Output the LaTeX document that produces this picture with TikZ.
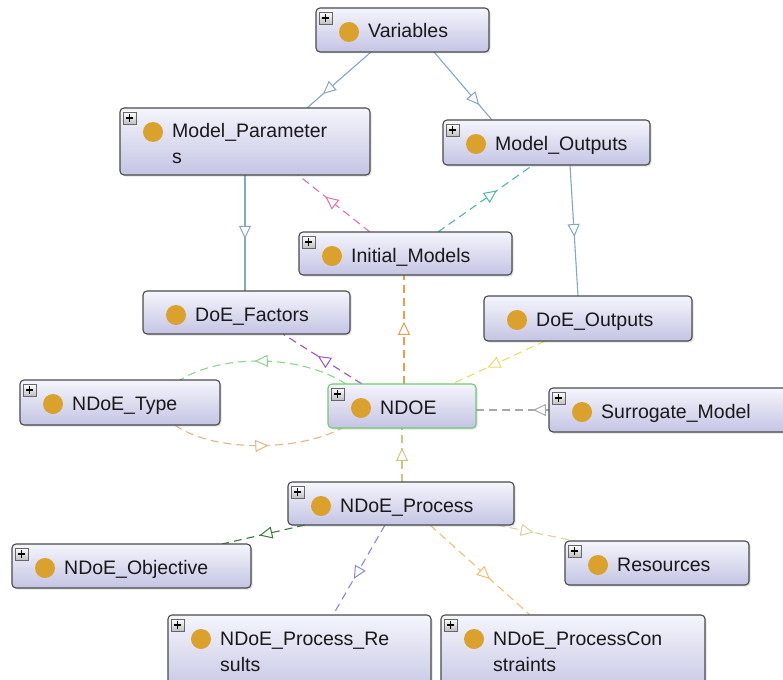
\documentclass[tikz,border=0pt]{standalone}
\usepackage{fontspec}
\setmainfont{Liberation Sans}
\usetikzlibrary{calc,arrows.meta,decorations.markings,shadows}
\pgfdeclarelayer{bg}
\pgfsetlayers{bg,main}

\definecolor{boxtop}{HTML}{F5F5FC}
\definecolor{boxbot}{HTML}{C4C4E4}
\definecolor{boxedge}{HTML}{4A4A4A}
\definecolor{ndgreen}{HTML}{74C874}
\definecolor{dotc}{HTML}{DAA22C}
\definecolor{cblue}{HTML}{86A6C6}
\definecolor{cpink}{HTML}{E070B0}
\definecolor{cteal}{HTML}{50B8A8}
\definecolor{corange}{HTML}{E0A050}
\definecolor{cpurple}{HTML}{A050C8}
\definecolor{cyellow}{HTML}{E6DE6A}
\definecolor{cgreen}{HTML}{8ED68E}
\definecolor{corange2}{HTML}{E0B684}
\definecolor{cgray}{HTML}{A8A8A8}
\definecolor{colive}{HTML}{D0C878}
\definecolor{cdgreen}{HTML}{3C7A3C}
\definecolor{cbeige}{HTML}{D8D0A8}
\definecolor{cviolet}{HTML}{8888E0}
\definecolor{corange3}{HTML}{F0C070}

\tikzset{
  clsbox/.style={draw=boxedge, line width=1.1pt, rounded corners=4pt,
    top color=boxtop, bottom color=boxbot, inner sep=0pt, outer sep=0pt,
    drop shadow={shadow xshift=1.5pt, shadow yshift=-1.5pt, opacity=0.25}},
  focusbox/.style={draw=ndgreen},
  lbl/.style={font=\fontsize{19.5}{26}\selectfont, inner sep=0pt, text=black!90},
  lbltwo/.style={lbl, text width=240pt, align=left},
  plusbox/.style={draw=black!60, line width=0.8pt, top color=white, bottom color=black!25},
  link/.style={line width=1.1pt},
  dlink/.style={link, dash pattern=on 8pt off 5pt},
  tri/.style={postaction={decorate}, decoration={markings,
    mark=at position #1 with {\arrow{Triangle[length=13pt,width=12pt,fill=white,line width=1pt]}}}},
}

\newcommand\ocls[6]{\node[clsbox,#6,minimum width={(#4)-(#2)},minimum height={(#5)-(#3)}] (#1) at ({((#2)+(#4))/2},{((#3)+(#5))/2}) {};}
\newcommand\ocdot[1]{\fill[dotc] ($(#1.north west)+(33,24)$) circle[radius=10pt];}
\newcommand\ocplus[1]{%
  \draw[plusbox] ($(#1.north west)+(3,4)$) rectangle ($(#1.north west)+(16,16)$);
  \draw[line width=1.8pt] ($(#1.north west)+(5.8,10)$) -- ($(#1.north west)+(13.2,10)$);
  \draw[line width=1.8pt] ($(#1.north west)+(9.5,6.3)$) -- ($(#1.north west)+(9.5,13.7)$);}
\newcommand\olbl[2]{\node[lbl, anchor=base west] (#1-t) at ($(#1.north west)+(52,30)$) {#2};}
\newcommand\olbltwo[2]{\node[lbltwo, anchor=base west] (#1-t) at ($(#1.north west)+(52,30)$) {#2};}

\begin{document}
\begin{tikzpicture}[x=1pt,y=-1pt]
\useasboundingbox (0,0) rectangle (783,679);
\clip (0,0) rectangle (783,679);

% classes
\ocls{var}{316}{8}{489}{52}{}
\ocls{mp}{120}{108}{370}{175}{}
\ocls{mo}{443}{120}{650}{165}{}
\ocls{im}{299}{232}{512}{275}{}
\ocls{df}{143}{291}{350}{334}{}
\ocls{do}{484}{296}{692}{341}{}
\ocls{nt}{20}{380}{220}{425}{}
\ocls{nd}{328}{384}{476}{428}{focusbox}
\ocls{sm}{549}{388}{795}{432}{}
\ocls{np}{288}{482}{514}{525}{}
\ocls{no}{12}{544}{251}{588}{}
\ocls{rs}{565}{541}{749}{585}{}
\ocls{pr}{168}{615}{431}{695}{}
\ocls{pc}{441}{615}{705}{695}{}

\foreach \n in {var,mp,mo,im,df,do,nt,nd,sm,np,no,rs,pr,pc} {\ocdot{\n}}
\foreach \n in {var,mp,mo,im,nt,nd,sm,np,no,rs,pr,pc} {\ocplus{\n}}

\olbl{var}{Variables}
\olbltwo{mp}{Model\_Parameter\\s}
\olbl{mo}{Model\_Outputs}
\olbl{im}{Initial\_Models}
\olbl{df}{DoE\_Factors}
\olbl{do}{DoE\_Outputs}
\olbl{nt}{NDoE\_Type}
\olbl{nd}{NDOE}
\olbl{sm}{Surrogate\_Model}
\olbl{np}{NDoE\_Process}
\olbl{no}{NDoE\_Objective}
\olbl{rs}{Resources}
\olbltwo{pr}{NDoE\_Process\_Re\\sults}
\olbltwo{pc}{NDoE\_ProcessCon\\straints}

\begin{pgfonlayer}{bg}
\fill[white] (0,0) rectangle (783,679);
% solid hierarchy links
\draw[link, cblue, tri=0.75] ($(var.south)+(-31.5,0)$) -- ($(mp.north)+(62,0)$);
\draw[link, cblue, tri=0.78] ($(var.south)+(31.5,0)$) -- ($(mo.north)+(-54.5,0)$);
\draw[link, cblue, tri=0.55] (mp.south) -- ($(df.north)+(-1.5,0)$);
\draw[link, cblue, tri=0.55] ($(mo.south)+(23.5,0)$) -- ($(do.north)+(-10,0)$);
% dashed links
\draw[dlink, cpink, tri=0.62] ($(im.north)+(-35.5,0)$) -- ($(mp.south)+(53,0)$);
\draw[dlink, cteal, tri=0.62] ($(im.north)+(32.5,0)$) -- ($(mo.south)+(-13.5,0)$);
\draw[dlink, corange, tri=0.57] ($(nd.north)+(2,0)$) -- ($(im.south)+(-1.5,0)$);
\draw[dlink, cpurple, tri=0.56] ($(nd.north)+(-40,0)$) -- ($(df.south)+(36.5,0)$);
\draw[dlink, cyellow, tri=0.62] ($(do.south)+(-43,0)$) -- ($(nd.north)+(50,0)$);
\draw[dlink, cgreen, tri=0.55] ($(nd.north west)+(18,0)$) .. controls (300,354) and (222,354) .. ($(nt.north)+(60,0)$);
\draw[dlink, corange2, tri=0.56] ($(nt.south)+(55,0)$) .. controls (212,452) and (298,452) .. ($(nd.south west)+(14,0)$);
\draw[dlink, cgray, tri=0.22] (sm.west) -- ($(nd.east)+(0,4)$);
\draw[dlink, colive, tri=0.63] ($(np.north)+(1,0)$) -- (nd.south);
\draw[dlink, cdgreen, tri=0.55] ($(np.south west)+(17,0)$) -- ($(no.north east)+(-29,0)$);
\draw[dlink, cbeige, tri=0.47] ($(np.south east)+(-17,0)$) -- ($(rs.north west)+(10,0)$);
\draw[dlink, cviolet, tri=0.6] ($(np.south)+(-16,0)$) -- ($(pr.north)+(33.5,0)$);
\draw[dlink, corange3, tri=0.6] ($(np.south)+(29,0)$) -- ($(pc.north)+(-43,0)$);
\end{pgfonlayer}
\end{tikzpicture}
\end{document}
